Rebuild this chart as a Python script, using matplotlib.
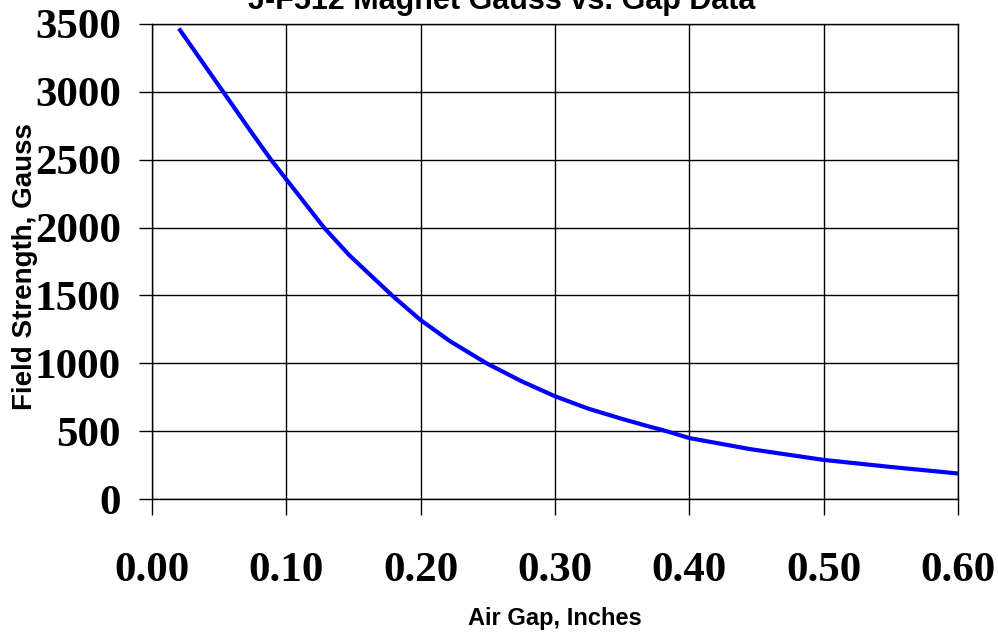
import matplotlib
matplotlib.use("Agg")
import matplotlib.pyplot as plt

# Data
air_gap = [0.02, 0.053, 0.075, 0.0886, 0.10, 0.128, 0.147, 0.1787, 0.20, 0.222,
           0.249, 0.275, 0.30, 0.325, 0.35, 0.369, 0.383, 0.40, 0.445, 0.50,
           0.55, 0.60]
gauss = [3467, 3000, 2688, 2500, 2355, 2000, 1795, 1500, 1318, 1162,
         1000, 868, 757, 665, 590, 537, 500, 449, 368, 288,
         236, 188]

x_ticks = [0.0, 0.1, 0.2, 0.3, 0.4, 0.5, 0.6]
x_tick_labels = ["0.00", "0.10", "0.20", "0.30", "0.40", "0.50", "0.60"]
y_ticks = [0, 500, 1000, 1500, 2000, 2500, 3000, 3500]
y_tick_labels = ["0", "500", "1000", "1500", "2000", "2500", "3000", "3500"]

title = "J-F512 Magnet Gauss vs. Gap Data"
x_label = "Air Gap, Inches"
y_label = "Field Strength, Gauss"

fig = plt.figure(figsize=(9.98, 6.37), dpi=100)
ax = fig.add_axes([152 / 998, 1 - 499 / 637, (958 - 152) / 998, (499 - 24) / 637])

ax.plot(air_gap, gauss, color="#0000FF", linewidth=3.0, solid_joinstyle="round",
        solid_capstyle="butt", zorder=3)

ax.set_xlim(0, 0.6)
ax.set_ylim(0, 3500)
ax.set_xticks(x_ticks)
ax.set_xticklabels(x_tick_labels)
ax.set_yticks(y_ticks)
ax.set_yticklabels(y_tick_labels)

ax.grid(True, color="black", linewidth=1.0)
for s in ax.spines.values():
    s.set_color("black")
    s.set_linewidth(1.0)

for lab in ax.get_xticklabels() + ax.get_yticklabels():
    lab.set_fontfamily("Liberation Serif")
    lab.set_fontweight("bold")
    lab.set_fontsize(31)

ax.tick_params(axis="y", direction="out", length=9.4, width=1.0, color="black", pad=13)
ax.tick_params(axis="x", direction="out", length=11.5, width=1.0, color="black", pad=27)

ax.set_xlabel(x_label, fontfamily="Liberation Sans", fontweight="bold", fontsize=17, labelpad=12)
ax.set_ylabel(y_label, fontfamily="Liberation Sans", fontweight="bold", fontsize=20)
ax.yaxis.set_label_coords(-0.141, 0.49)

fig.text(0.503, 1 - 9 / 637, title, ha="center", va="baseline",
         fontfamily="Liberation Sans", fontweight="bold", fontsize=22)

fig.savefig("out.png", dpi=100)
